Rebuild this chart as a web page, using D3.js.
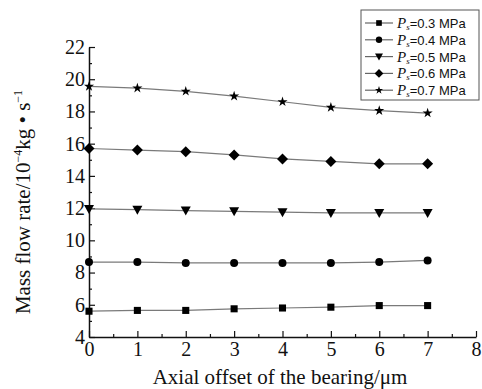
<!DOCTYPE html>
<html>
<head>
<meta charset="utf-8">
<script src="https://cdn.jsdelivr.net/npm/d3@7"></script>
<style>
  body { margin: 0; background: #fff; }
  svg text { font-family: "Liberation Serif", "Times New Roman", serif; fill: #111; }
</style>
</head>
<body>
<svg id="chart" width="482" height="389"></svg>
<script>
// data
var offsets = [0, 1, 2, 3, 4, 5, 6, 7];
var pressures = ['0.3', '0.4', '0.5', '0.6', '0.7'];
var flow03 = [5.6, 5.65, 5.65, 5.75, 5.8, 5.85, 5.95, 5.95];
var flow04 = [8.65, 8.65, 8.6, 8.6, 8.6, 8.6, 8.65, 8.75];
var flow05 = [11.95, 11.9, 11.85, 11.8, 11.75, 11.7, 11.7, 11.7];
var flow06 = [15.7, 15.6, 15.5, 15.3, 15.05, 14.9, 14.75, 14.75];
var flow07 = [19.55, 19.45, 19.25, 18.95, 18.6, 18.25, 18.05, 17.9];
var xTicks = [0, 1, 2, 3, 4, 5, 6, 7, 8];
var yTicks = [4, 6, 8, 10, 12, 14, 16, 18, 20, 22];

var series = [
	{p: pressures[0], values: flow03, sym: d3.symbolSquare, size: 50},
	{p: pressures[1], values: flow04, sym: d3.symbolCircle, size: 50},
	{p: pressures[2], values: flow05, sym: 'tri', size: 0},
	{p: pressures[3], values: flow06, sym: 'dia', size: 0},
	{p: pressures[4], values: flow07, sym: d3.symbolStar, size: 32}
];

var svg = d3.select('#chart');
var mLeft = 89, mRight = 476, mTop = 47, mBottom = 337;

var x = d3.scaleLinear().domain([0, 8]).range([mLeft, mRight]);
var y = d3.scaleLinear().domain([4, 22]).range([mBottom, mTop]);

// axes, ticks pointing inward
var xAxis = d3.axisBottom(x).tickValues(d3.range(0, 8.01, 0.5)).tickSizeInner(-4).tickSizeOuter(0)
	.tickFormat(function(d) { return xTicks.indexOf(d) >= 0 ? d : ''; });
var gx = svg.append('g').attr('transform', 'translate(0,' + mBottom + ')').call(xAxis);
gx.selectAll('.tick line').attr('y2', function(d) { return d % 1 === 0 ? -6 : -3; });

var yAxis = d3.axisLeft(y).tickValues(d3.range(4, 22.01, 1)).tickSizeInner(-4).tickSizeOuter(0)
	.tickFormat(function(d) { return yTicks.indexOf(d) >= 0 ? d : ''; });
var gy = svg.append('g').attr('transform', 'translate(' + mLeft + ',0)').call(yAxis);
gy.selectAll('.tick line').attr('x2', function(d) { return d % 2 === 0 ? 6 : 3; });

[gx, gy].forEach(function(g) {
	g.select('.domain').attr('stroke', '#111').attr('stroke-width', 1.5);
	g.selectAll('.tick line').attr('stroke', '#111').attr('stroke-width', 1.2);
	g.selectAll('.tick text').attr('font-size', 20).attr('font-family', '"Liberation Serif", serif').attr('fill', '#111');
});
gx.selectAll('.tick text').attr('dy', '0.8em');
gy.selectAll('.tick text').attr('x', -4);

// titles
svg.append('text').attr('x', 280).attr('y', 384).attr('text-anchor', 'middle')
	.attr('font-size', 21).text('Axial offset of the bearing/\u03bcm');

var yt = svg.append('text').attr('transform', 'translate(30,202) rotate(-90)')
	.attr('text-anchor', 'middle').attr('font-size', 21);
yt.append('tspan').text('Mass flow rate/10');
yt.append('tspan').attr('font-size', 12).attr('dy', -8).text('\u22124');
yt.append('tspan').attr('dy', 8).text('kg \u2022 s');
yt.append('tspan').attr('font-size', 12).attr('dy', -8).text('\u22121');

var line = d3.line().x(function(d, i) { return x(offsets[i]); }).y(function(d) { return y(d); });

function drawMarker(g, s) {
	if (s.sym === 'tri') {
		g.append('path').attr('d', 'M-5,-4L5,-4L0,5Z').attr('fill', '#000');
	} else if (s.sym === 'dia') {
		g.append('path').attr('d', 'M0,-5.5L5.5,0L0,5.5L-5.5,0Z').attr('fill', '#000');
	} else {
		g.append('path').attr('d', d3.symbol().type(s.sym).size(s.size)()).attr('fill', '#000');
	}
}

series.forEach(function(s) {
	svg.append('path').datum(s.values).attr('d', line)
		.attr('fill', 'none').attr('stroke', '#7a7a7a').attr('stroke-width', 1.2);
	s.values.forEach(function(v, i) {
		var g = svg.append('g').attr('transform', 'translate(' + x(offsets[i]) + ',' + y(v) + ')');
		drawMarker(g, s);
	});
});

// legend
var lg = svg.append('g');
lg.append('rect').attr('x', 361).attr('y', 10).attr('width', 118).attr('height', 90)
	.attr('fill', '#fff').attr('stroke', '#555').attr('stroke-width', 1);
series.forEach(function(s, i) {
	var ly = 23 + i * 16.8;
	lg.append('line').attr('x1', 365).attr('x2', 393).attr('y1', ly).attr('y2', ly)
		.attr('stroke', '#666').attr('stroke-width', 1.2);
	drawMarker(lg.append('g').attr('transform', 'translate(379,' + ly + ') scale(0.8)'), s);
	var t = lg.append('text').attr('x', 397).attr('y', ly + 5).attr('font-size', 13);
	t.append('tspan').attr('font-style', 'italic').attr('font-size', 15).text('P');
	t.append('tspan').attr('font-style', 'italic').attr('font-size', 9).attr('dy', 2).text('s');
	t.append('tspan').attr('dy', -2).attr('font-family', '"Liberation Sans", Arial, sans-serif').attr('font-size', 13).text('=' + s.p + ' MPa');
});
</script>
</body>
</html>
